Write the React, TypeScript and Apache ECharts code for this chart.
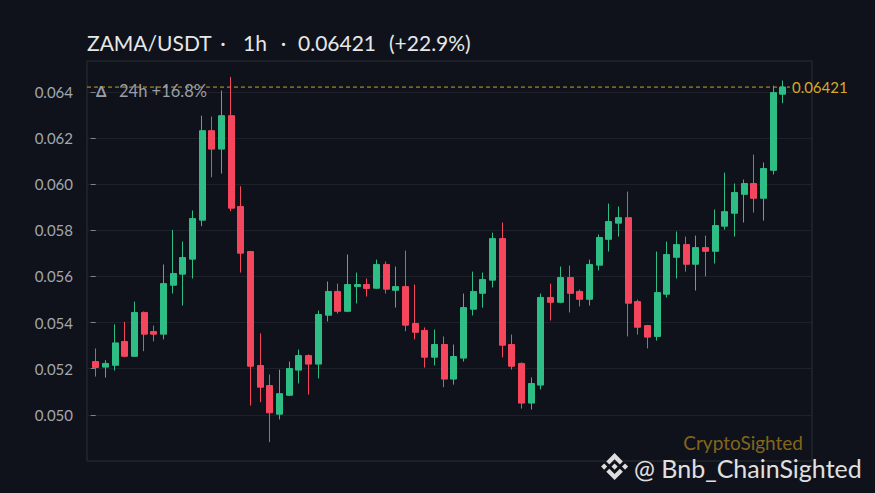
import { useEffect, useRef } from "react";
import * as echarts from "echarts";

const PAIR = "ZAMA/USDT";
const TIMEFRAME = "1h";
const LAST_PRICE = 0.06421;
const CHANGE_TOTAL = "(+22.9%)";
const CHANGE_24H = "24h +16.8%";
const WATERMARK = "CryptoSighted";
const HANDLE = "@ Bnb_ChainSighted";

const yTicks = [0.05, 0.052, 0.054, 0.056, 0.058, 0.06, 0.062, 0.064];

const opens = [
  0.05231, 0.05207, 0.05215, 0.05318, 0.05254, 0.05444, 0.05361, 0.0535, 0.05562, 0.0561,
  0.05675, 0.05844, 0.06232, 0.06152, 0.06297, 0.05903, 0.05708, 0.05214, 0.05127, 0.05003,
  0.05085, 0.05194, 0.05257, 0.0522, 0.05432, 0.05535, 0.05449, 0.05556, 0.05565, 0.05549,
  0.05652, 0.0554, 0.05556, 0.05396, 0.05366, 0.0525, 0.05305, 0.05155, 0.05246, 0.05458,
  0.05527, 0.05584, 0.05764, 0.05305, 0.05223, 0.05051, 0.05129, 0.05509, 0.05488, 0.05595,
  0.05535, 0.05501, 0.05649, 0.05761, 0.05831, 0.05855, 0.05491, 0.05387, 0.0534, 0.05523,
  0.05683, 0.05738, 0.05653, 0.05725, 0.05709, 0.05818, 0.05874, 0.05956, 0.06003, 0.05939,
  0.0606, 0.0639,
];
const closes = [
  0.05205, 0.05223, 0.05312, 0.05254, 0.05444, 0.0535, 0.0535, 0.05569, 0.05613, 0.05682,
  0.05851, 0.06232, 0.06152, 0.06297, 0.05896, 0.05701, 0.05211, 0.0512, 0.05009, 0.05092,
  0.05201, 0.05257, 0.0522, 0.05435, 0.05535, 0.05449, 0.05565, 0.05565, 0.05548, 0.05652,
  0.05545, 0.05556, 0.05389, 0.05358, 0.0525, 0.05305, 0.05155, 0.05253, 0.05465, 0.05535,
  0.05587, 0.05764, 0.05302, 0.05211, 0.05051, 0.05136, 0.05509, 0.05488, 0.05595, 0.05527,
  0.05501, 0.05652, 0.05769, 0.05838, 0.05855, 0.05484, 0.0538, 0.05337, 0.0553, 0.05695,
  0.05738, 0.05653, 0.05725, 0.05709, 0.05821, 0.05881, 0.05964, 0.06003, 0.05939, 0.06068,
  0.06397, 0.06421,
];
const lows = [
  0.05166, 0.05162, 0.05192, 0.0525, 0.05251, 0.05276, 0.05319, 0.05327, 0.05526, 0.05474,
  0.05591, 0.05818, 0.0603, 0.06046, 0.05883, 0.05617, 0.0504, 0.05055, 0.04882, 0.0498,
  0.05081, 0.05136, 0.05088, 0.05158, 0.05405, 0.05439, 0.05445, 0.05483, 0.05513, 0.05546,
  0.05526, 0.05465, 0.05363, 0.05327, 0.05205, 0.05214, 0.0512, 0.05131, 0.05231, 0.05431,
  0.05465, 0.05552, 0.05249, 0.05196, 0.05027, 0.05023, 0.0511, 0.05409, 0.05484, 0.05444,
  0.0547, 0.05474, 0.05626, 0.05708, 0.05773, 0.0534, 0.05348, 0.05288, 0.05322, 0.05509,
  0.05591, 0.05621, 0.05539, 0.056, 0.05656, 0.05803, 0.05773, 0.05834, 0.05877, 0.05842,
  0.06042, 0.06351,
];
const highs = [
  0.05288, 0.05237, 0.05392, 0.05403, 0.05491, 0.05448, 0.05387, 0.05652, 0.05802, 0.05751,
  0.05886, 0.06297, 0.06293, 0.06406, 0.06465, 0.05991, 0.05711, 0.05353, 0.05175, 0.05196,
  0.05231, 0.05283, 0.05262, 0.05452, 0.05578, 0.05569, 0.05695, 0.05617, 0.05591, 0.05673,
  0.05665, 0.05643, 0.05712, 0.05565, 0.05379, 0.0537, 0.0534, 0.05305, 0.05526, 0.05621,
  0.05617, 0.0579, 0.05834, 0.05348, 0.05227, 0.05162, 0.05526, 0.05569, 0.05643, 0.05647,
  0.05543, 0.05673, 0.05782, 0.05916, 0.05903, 0.05968, 0.055, 0.0539, 0.05708, 0.05751,
  0.05795, 0.05773, 0.05777, 0.05777, 0.0589, 0.0605, 0.06003, 0.0602, 0.06128, 0.06094,
  0.06427, 0.06449,
];

// x extent of the last-price guide line (in candle-index units)
const priceLineX = [-0.9, 71.72];

const BNB_LOGO =
  "M12.116 14.404L16 10.52l3.886 3.886 2.26-2.26L16 6l-6.144 6.144 2.26 2.26zM6 16l2.26 2.26L10.52 16l-2.26-2.26L6 16zm6.116 1.596l-2.263 2.257.003.003L16 26l6.146-6.146v-.001l-2.26-2.26L16 21.48l-3.884-3.884zM21.48 16l2.26 2.26L26 16l-2.26-2.26L21.48 16zm-3.188-.002h.001L16 13.706 14.305 15.4l-.195.195-.401.402-.004.003.004.003 2.29 2.291 2.294-2.293.001-.001-.002-.001z";

let registered = false;

export default function App() {
  const ref = useRef<HTMLDivElement>(null);

  useEffect(() => {
    if (!ref.current) return;
    if (!registered) {
      echarts.graphic.registerShape("bnblogo", echarts.graphic.extendPath(BNB_LOGO, {}));
      registered = true;
    }
    const chart = echarts.init(ref.current, undefined, { renderer: "svg" });
    const data = opens.map((o, i) => [i, o, closes[i], lows[i], highs[i]]);
    const font = "Lato, 'Open Sans', sans-serif";
    const up = "#2ebd85";
    const down = "#f6465d";
    const gold = "#c9a227";

    chart.setOption({
      animation: false,
      backgroundColor: "#0f121a",
      grid: {
        left: 87,
        right: 63,
        top: 61,
        bottom: 32,
        show: true,
        borderColor: "#2a2e35",
        borderWidth: 1,
        backgroundColor: "transparent",
      },
      xAxis: {
        type: "value",
        min: -0.9,
        max: 74,
        show: false,
        splitLine: { show: false },
      },
      yAxis: {
        type: "value",
        min: 0.048,
        max: 0.06534,
        interval: 0.002,
        axisLine: { show: false },
        axisTick: {
          show: true,
          length: 5,
          customValues: yTicks,
          lineStyle: { color: "#7f848c" },
        },
        axisLabel: {
          customValues: yTicks,
          formatter: (v: number) => v.toFixed(3),
          color: "#a3a7ae",
          fontSize: 15,
          fontFamily: font,
          margin: 14,
        },
        splitLine: { show: true, lineStyle: { color: "#1d2129", width: 1 } },
      },
      series: [
        {
          type: "line",
          data: priceLineX.map((x) => [x, LAST_PRICE]),
          symbol: "none",
          silent: true,
          z: 1,
          color: gold,
          lineStyle: { color: gold, type: [4, 3], width: 1 },
          endLabel: {
            show: true,
            distance: 2,
            formatter: () => LAST_PRICE.toFixed(5),
            color: "#d6aa2a",
            fontSize: 15,
            fontFamily: font,
          },
        },
        {
          type: "candlestick",
          data,
          z: 2,
          barWidth: 6.5,
          itemStyle: {
            color: up,
            color0: down,
            borderColor: up,
            borderColor0: down,
            borderWidth: 1,
          },
        },
      ],
      graphic: [
        { type: "text", x: 87, y: 42, style: { text: PAIR, fill: "#e6e7e9", fontSize: 21, fontFamily: font, verticalAlign: "middle" } },
        { type: "text", x: 223, y: 42, style: { text: "·", fill: "#e6e7e9", fontSize: 21, fontFamily: font, align: "center", verticalAlign: "middle" } },
        { type: "text", x: 243, y: 42, style: { text: TIMEFRAME, fill: "#e6e7e9", fontSize: 21, fontFamily: font, verticalAlign: "middle" } },
        { type: "text", x: 283.5, y: 42, style: { text: "·", fill: "#e6e7e9", fontSize: 21, fontFamily: font, align: "center", verticalAlign: "middle" } },
        { type: "text", x: 298, y: 42, style: { text: LAST_PRICE.toFixed(5), fill: "#e6e7e9", fontSize: 21, fontFamily: font, verticalAlign: "middle" } },
        { type: "text", x: 389, y: 42, style: { text: CHANGE_TOTAL, fill: "#e6e7e9", fontSize: 21, fontFamily: font, verticalAlign: "middle" } },
        { type: "text", x: 96, y: 91, z: 10, style: { text: "Δ", fill: "#9a9ea6", fontSize: 15, fontWeight: "bold", fontFamily: font, verticalAlign: "middle" } },
        { type: "text", x: 119, y: 91, z: 10, style: { text: CHANGE_24H, fill: "#9a9ea6", fontSize: 16.5, fontFamily: font, verticalAlign: "middle" } },
        { type: "text", x: 803, y: 442, style: { text: WATERMARK, fill: "#82661c", fontSize: 19, fontFamily: font, align: "right", verticalAlign: "middle" } },
        { type: "bnblogo", x: 593, y: 445, scaleX: 1.35, scaleY: 1.35, style: { fill: "#dedede" } },
        { type: "text", x: 634, y: 468, style: { text: HANDLE, fill: "#e0e0e0", fontSize: 25, fontFamily: font, verticalAlign: "middle" } },
      ],
    });
    return () => chart.dispose();
  }, []);

  return (
    <div
      ref={ref}
      style={{ position: "fixed", left: 0, top: 0, width: 875, height: 493 }}
    />
  );
}
